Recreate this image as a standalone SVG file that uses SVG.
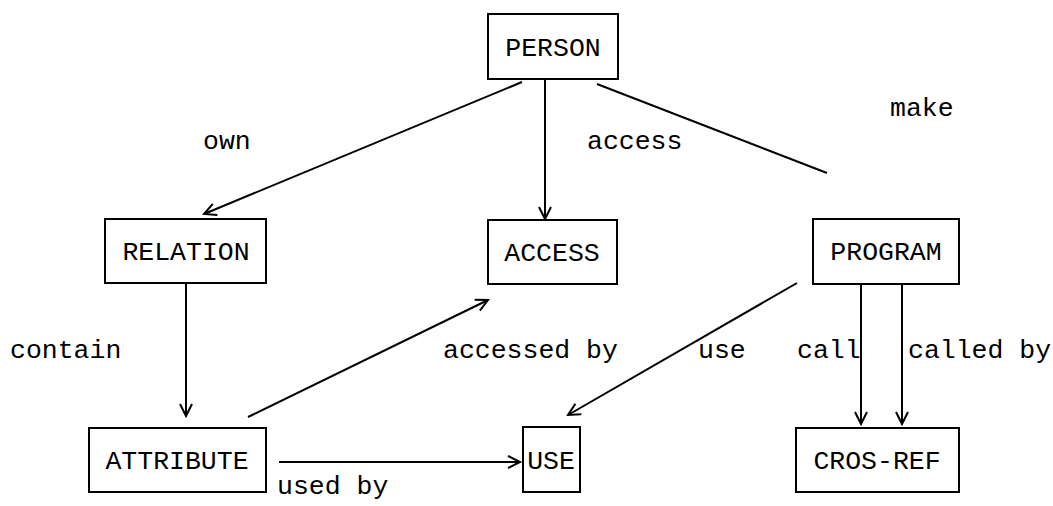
<svg xmlns="http://www.w3.org/2000/svg" width="1053" height="506" viewBox="0 0 1053 506">
  <style>
    .box { fill: #fff; stroke: #000; stroke-width: 2; }
    .lbl { font-family: "Liberation Mono", "DejaVu Sans Mono", monospace; font-size: 26.5px; fill: #000; }
    .mid { text-anchor: middle; }
    .edge { stroke: #000; stroke-width: 2; fill: none; }
  </style>
  <defs>
    <marker id="vhead" markerUnits="userSpaceOnUse" markerWidth="16" markerHeight="16" refX="13" refY="7" orient="auto">
      <path d="M1,1 L13,7 L1,13" fill="none" stroke="#000" stroke-width="2"/>
    </marker>
  </defs>
  <rect width="1053" height="506" fill="#fff"/>

  <g id="connectors">
    <line class="edge" x1="522" y1="82" x2="204" y2="214" marker-end="url(#vhead)"/>
    <line class="edge" x1="545" y1="79" x2="545" y2="219" marker-end="url(#vhead)"/>
    <line class="edge" x1="597" y1="84" x2="827" y2="173"/>
    <line class="edge" x1="186" y1="283" x2="186" y2="416" marker-end="url(#vhead)"/>
    <line class="edge" x1="248" y1="417" x2="488" y2="300" marker-end="url(#vhead)"/>
    <line class="edge" x1="279" y1="462" x2="520" y2="462" marker-end="url(#vhead)"/>
    <line class="edge" x1="797" y1="283" x2="568" y2="415" marker-end="url(#vhead)"/>
    <line class="edge" x1="861" y1="284" x2="861" y2="424" marker-end="url(#vhead)"/>
    <line class="edge" x1="902" y1="284" x2="902" y2="424" marker-end="url(#vhead)"/>

    <text class="lbl" x="203" y="149">own</text>
    <text class="lbl" x="587" y="149">access</text>
    <text class="lbl" x="890" y="116">make</text>
    <text class="lbl" x="10" y="358">contain</text>
    <text class="lbl" x="443" y="358">accessed by</text>
    <text class="lbl" x="698" y="358">use</text>
    <text class="lbl" x="797" y="358">call</text>
    <text class="lbl" x="908" y="358">called by</text>
    <text class="lbl" x="277" y="494">used by</text>
  </g>

  <g id="person">
    <rect class="box" x="488" y="14" width="130" height="65"/>
    <text class="lbl mid" x="553" y="56">PERSON</text>
  </g>
  <g id="relation">
    <rect class="box" x="105" y="219" width="161" height="64"/>
    <text class="lbl mid" x="186" y="260">RELATION</text>
  </g>
  <g id="access">
    <rect class="box" x="488" y="220" width="129" height="64"/>
    <text class="lbl mid" x="552" y="261">ACCESS</text>
  </g>
  <g id="program">
    <rect class="box" x="813" y="219" width="146" height="65"/>
    <text class="lbl mid" x="886" y="260">PROGRAM</text>
  </g>
  <g id="attribute">
    <rect class="box" x="89" y="428" width="177" height="64"/>
    <text class="lbl mid" x="177" y="469">ATTRIBUTE</text>
  </g>
  <g id="use">
    <rect class="box" x="523" y="427" width="57" height="65"/>
    <text class="lbl mid" x="551" y="469">USE</text>
  </g>
  <g id="cros-ref">
    <rect class="box" x="796" y="428" width="163" height="64"/>
    <text class="lbl mid" x="877" y="469">CROS-REF</text>
  </g>
</svg>
